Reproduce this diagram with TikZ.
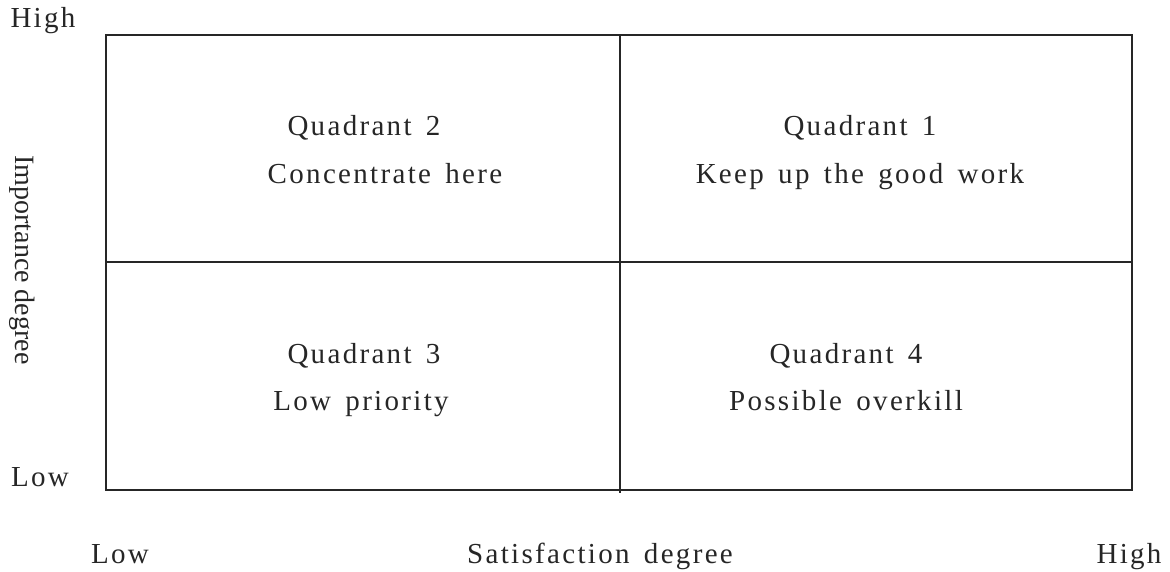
\documentclass[tikz,border=0pt]{standalone}
\usepackage{fontspec}
\setmainfont{Liberation Serif}
\newfontfamily\spaced[LetterSpace=8,WordSpace=1.5]{Liberation Serif}
\begin{document}
\begin{tikzpicture}[x=1pt,y=-1pt,
  lbl/.style={inner sep=0pt,anchor=base,font=\spaced\fontsize{29}{33}\selectfont,text=black!85},
  grid/.style={line width=1.6pt,draw=black!85}]
\useasboundingbox (0,0) rectangle (1170,571);
\coordinate (tl) at (106,35);
\coordinate (br) at (1132,490);
\coordinate (mt) at (620,35);
\coordinate (mb) at (620,493);
\coordinate (ml) at (106,262);
\coordinate (mr) at (1132,262);
\draw[grid] (tl) rectangle (br);
\draw[grid] (mt) -- (mb);
\draw[grid] (ml) -- (mr);
\node[lbl] (q2a) at (364,135) {Quadrant 2};
\node[lbl] (q2b) at (385,183) {Concentrate here};
\node[lbl] (q1a) at (860,135) {Quadrant 1};
\node[lbl] (q1b) at (860,183) {Keep up the good work};
\node[lbl] (q3a) at (364,363) {Quadrant 3};
\node[lbl] (q3b) at (361,410) {Low priority};
\node[lbl] (q4a) at (846,363) {Quadrant 4};
\node[lbl] (q4b) at (846,410) {Possible overkill};
\node[lbl] (yhi) at (43,27) {High};
\node[lbl] (ylo) at (40,486) {Low};
\node[lbl] (xlo) at (120,563) {Low};
\node[lbl] (xlab) at (600,563) {Satisfaction degree};
\node[lbl] (xhi) at (1129,563) {High};
\node[inner sep=0pt,font=\fontsize{28}{32}\selectfont,text=black!85,rotate=-90] (ylab) at (22,260) {Importance degree};
\end{tikzpicture}
\end{document}
